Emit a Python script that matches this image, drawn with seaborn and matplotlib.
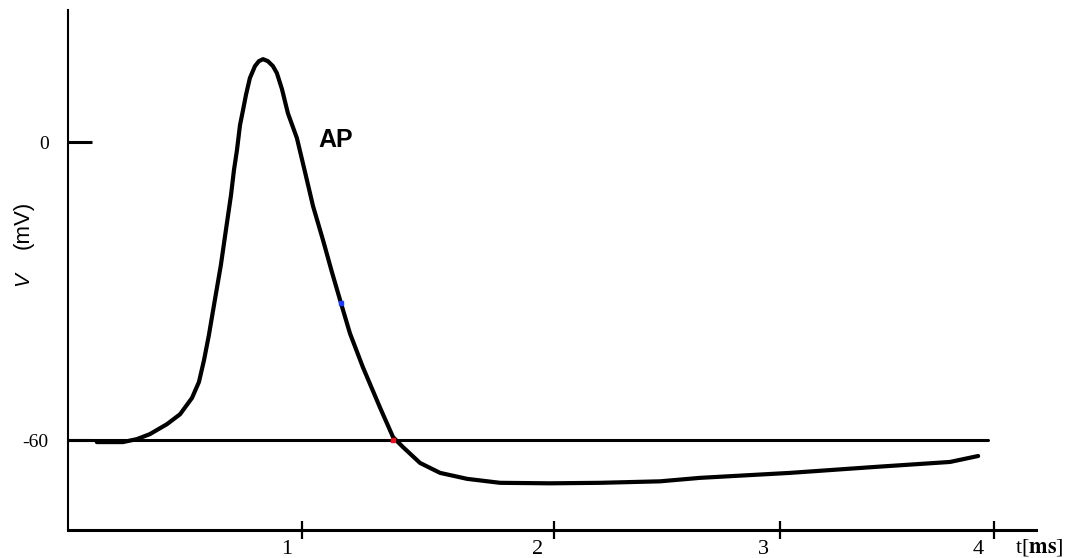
import matplotlib
matplotlib.use("Agg")
import matplotlib.pyplot as plt
import matplotlib.transforms as mtrans
import seaborn as sns
import pandas as pd

# ---- data (t in ms, V in mV) ----
ap_t = [0.108, 0.221, 0.282, 0.338, 0.412, 0.469, 0.521, 0.551, 0.573, 0.594,
        0.620, 0.646, 0.668, 0.690, 0.703, 0.716, 0.729, 0.742, 0.755, 0.772,
        0.794, 0.811, 0.829, 0.850, 0.872, 0.889, 0.911, 0.937, 0.976, 1.011,
        1.046, 1.089, 1.128, 1.167, 1.206, 1.262, 1.336, 1.393, 1.436, 1.510,
        1.597, 1.714, 1.857, 2.074, 2.291, 2.551, 2.725, 3.115, 3.484, 3.809,
        3.931]
ap_v = [-60.4, -60.4, -59.8, -58.8, -56.8, -54.8, -51.5, -48.3, -43.9, -38.9,
        -31.8, -24.8, -17.7, -10.7, -5.6, -1.6, 3.4, 6.4, 9.5, 12.9,
        15.3, 16.3, 16.7, 16.3, 15.3, 13.9, 10.7, 5.8, 0.8, -6.0,
        -12.9, -19.7, -26.2, -32.4, -38.5, -45.3, -53.4, -59.4, -61.4, -64.6,
        -66.6, -67.8, -68.6, -68.7, -68.6, -68.3, -67.6, -66.6, -65.4, -64.4,
        -63.2]

rest_t = [-0.017, 3.974]
rest_v = [-60, -60]

marker_t = [1.167, 1.393]
marker_v = [-32.4, -60.0]
marker_colors = ["#1a3cff", "#e8101a"]

x_tick_pos = [1.0, 2.09, 3.07, 4.0]
x_tick_labels = ["1", "2", "3", "4"]
y_tick_pos = [0, -60]
y_tick_labels = ["0", "-60"]

sns.set_style("white")
plt.rcParams["mathtext.fontset"] = "stix"
plt.rcParams["text.color"] = "black"
plt.rcParams["xtick.color"] = "black"
plt.rcParams["ytick.color"] = "black"
plt.rcParams["axes.labelcolor"] = "black"

fig = plt.figure(figsize=(10.7, 5.58), dpi=100)
W, H = 1070, 558
ax = fig.add_axes([68 / W, 28 / H, (1036 - 68) / W, (530 - 10) / H])

df = pd.DataFrame({"t": ap_t, "V": ap_v})
rest = pd.DataFrame({"t": rest_t, "V": rest_v})

sns.lineplot(data=rest, x="t", y="V", ax=ax, color="black", linewidth=2.2,
             estimator=None, sort=False)
sns.lineplot(data=df, x="t", y="V", ax=ax, color="black", linewidth=3.0,
             estimator=None, sort=False, solid_joinstyle="round",
             solid_capstyle="round")
for tt, vv, cc in zip(marker_t, marker_v, marker_colors):
    ax.plot([tt], [vv], marker="s", markersize=3.5, color=cc, zorder=5,
            linestyle="none")

ax.set_xlim(-0.017, 4.182)
ax.set_ylim(-78.1, 26.6)
ax.set_xlabel("")
ax.set_ylabel("")

for s in ["top", "right"]:
    ax.spines[s].set_visible(False)
ax.spines["left"].set_linewidth(1.5)
ax.spines["bottom"].set_linewidth(2.2)
ax.spines["left"].set_color("black")
ax.spines["bottom"].set_color("black")

ax.set_xticks(x_tick_pos)
ax.set_xticklabels(x_tick_labels, fontfamily="Liberation Serif", fontsize=16,
                   color="black")
ax.set_yticks(y_tick_pos)
ax.set_yticklabels(y_tick_labels, fontfamily="Liberation Serif", fontsize=14,
                   color="black")

ax.tick_params(axis="x", direction="inout", length=13, width=1.6,
               color="black", labelcolor="black", pad=1, bottom=True)
ax.tick_params(axis="y", direction="in", length=17, width=2.2,
               color="black", labelcolor="black", pad=14, left=True)

offset = mtrans.ScaledTranslation(-16 / 100, 0, fig.dpi_scale_trans)
for lab in ax.get_xticklabels():
    lab.set_transform(lab.get_transform() + offset)

ax.text(1.145, 0.4, "AP", ha="center", va="center", fontsize=18,
        fontweight="bold", fontfamily="Liberation Sans", color="black")

fig.text(1015 / W, 1 - 548 / H, r"t[$\mathbf{ms}$]", ha="left", va="center",
         fontsize=16, fontfamily="Liberation Serif", color="black")

fig.text(23 / W, 1 - 279 / H, "V", rotation=90, ha="center", va="center",
         fontsize=15, fontstyle="italic", fontfamily="Liberation Sans",
         color="black")
fig.text(23 / W, 1 - 225 / H, "(mV)", rotation=90, ha="center", va="center",
         fontsize=16, fontfamily="Liberation Sans", color="black")

fig.savefig("out.png", dpi=100)
